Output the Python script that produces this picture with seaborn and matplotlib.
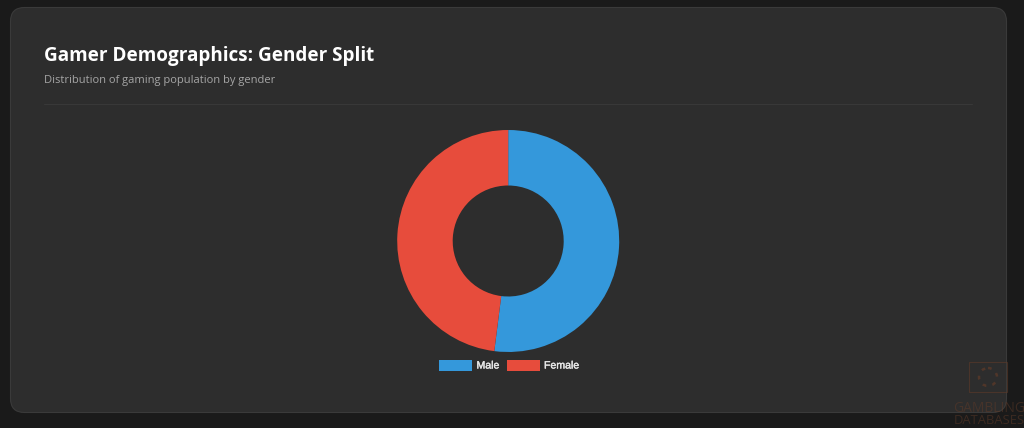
import matplotlib
matplotlib.use("Agg")
import matplotlib.pyplot as plt
import matplotlib.patheffects as pe
from matplotlib.patches import FancyBboxPatch, Rectangle, Circle
from matplotlib.lines import Line2D
import seaborn as sns

# Chart values
genders = ["Male", "Female"]
shares = [52, 48]
slice_colors = ["#3498db", "#e74c3c"]

title_text = "Gamer Demographics: Gender Split"
subtitle_text = "Distribution of gaming population by gender"

W, H = 1024, 428
sns.set_theme(style="dark")
plt.rcParams["font.family"] = ["Open Sans", "DejaVu Sans"]

fig = plt.figure(figsize=(W / 100, H / 100), dpi=100, facecolor="#1a1a1a")

# full size layer in pixel coordinates, for the card
bg = fig.add_axes([0, 0, 1, 1])
bg.set_xlim(0, W)
bg.set_ylim(H, 0)
bg.axis("off")
card = FancyBboxPatch((10.5 + 14, 7.5 + 14), 996 - 28, 405 - 28,
                      boxstyle="round,pad=14,rounding_size=14",
                      fc="#2d2d2d", ec="#3a3a3a", lw=0.8)
bg.add_patch(card)
bg.add_line(Line2D([44, 972], [104, 104], color="#383838", lw=0.8))

bg.text(44, 55.5, title_text, color="white", fontsize=13.6, fontweight="bold",
        va="center", ha="left")
bg.text(44, 80.6, subtitle_text, color="#a6a6a6", fontsize=8.03,
        va="center", ha="left")

# donut, 111 px radius around its centre
cx, cy, r = 508.2, 241, 111
pie_ax = fig.add_axes([(cx - r) / W, 1 - (cy + r) / H, 2 * r / W, 2 * r / H])
pie_ax.pie(shares, colors=slice_colors, startangle=90, counterclock=False,
           radius=1, wedgeprops=dict(width=0.5, linewidth=0))
pie_ax.set_xlim(-1, 1)
pie_ax.set_ylim(-1, 1)
pie_ax.set_aspect("equal")
pie_ax.axis("off")

# legend
legend_items = [(438.5, 476.5, genders[0], slice_colors[0]),
                (507, 544, genders[1], slice_colors[1])]
for x0, tx, label, col in legend_items:
    bg.add_patch(Rectangle((x0, 360), 33, 10.5, fc=col, ec="none"))
    bg.text(tx, 365.5, label, color="#e6e6e6", fontsize=7.6, va="center", ha="left",
            family=["Liberation Sans", "DejaVu Sans"],
            path_effects=[pe.withStroke(linewidth=0.3, foreground="#e6e6e6")])

# faint watermark in the corner
wm = "#5f3a28"
bg.add_patch(Rectangle((969, 362), 38, 30, fc="none", ec=wm, lw=0.8, alpha=0.6))
bg.add_patch(Circle((988, 377), 9, fc="none", ec=wm, lw=1.8, ls=(0, (1.5, 2.5)), alpha=0.7))
bg.text(953, 408, "GAMBLING", color=wm, fontsize=10, alpha=0.5, va="center", ha="left")
bg.text(954, 421, "DATABASES", color=wm, fontsize=9.4, alpha=0.5, va="center", ha="left")

fig.savefig("out.png", dpi=100, facecolor=fig.get_facecolor())
